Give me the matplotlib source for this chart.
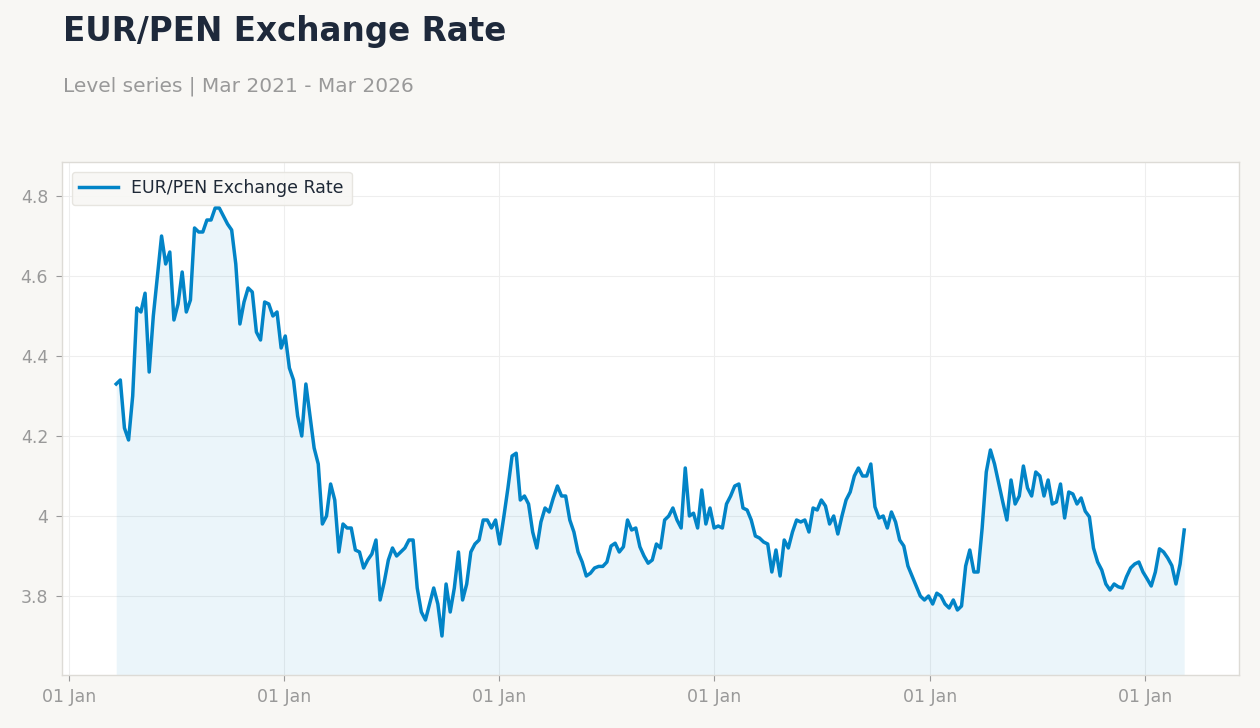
import matplotlib

matplotlib.use("Agg")
import matplotlib.dates as mdates
import matplotlib.pyplot as plt
import pandas as pd
from matplotlib.ticker import FuncFormatter

# weekly EUR/PEN readings, Mar 2021 - Mar 2026
start_date = "2021-03-22"
rate = [
    4.33, 4.34, 4.22, 4.19, 4.30, 4.52, 4.51, 4.557, 4.36, 4.50,
    4.60, 4.70, 4.63, 4.66, 4.49, 4.53, 4.61, 4.51, 4.54, 4.72,
    4.71, 4.71, 4.74, 4.74, 4.77, 4.77, 4.75, 4.73, 4.715, 4.63,
    4.48, 4.535, 4.57, 4.56, 4.46, 4.44, 4.535, 4.53, 4.50, 4.51,
    4.42, 4.45, 4.37, 4.34, 4.25, 4.20, 4.33, 4.25, 4.17, 4.13,
    3.98, 4.00, 4.08, 4.04, 3.91, 3.98, 3.97, 3.97, 3.915, 3.91,
    3.87, 3.89, 3.905, 3.94, 3.79, 3.835, 3.89, 3.92, 3.90, 3.91,
    3.92, 3.94, 3.94, 3.82, 3.76, 3.74, 3.78, 3.82, 3.78, 3.70,
    3.83, 3.76, 3.82, 3.91, 3.79, 3.83, 3.91, 3.93, 3.94, 3.99,
    3.99, 3.97, 3.99, 3.93, 3.998, 4.07, 4.15, 4.157, 4.04, 4.05,
    4.03, 3.96, 3.92, 3.985, 4.02, 4.01, 4.045, 4.075, 4.05, 4.05,
    3.99, 3.96, 3.91, 3.885, 3.85, 3.857, 3.87, 3.874, 3.874, 3.885,
    3.925, 3.932, 3.91, 3.923, 3.99, 3.965, 3.97, 3.923, 3.90, 3.882,
    3.89, 3.93, 3.92, 3.99, 4.00, 4.02, 3.99, 3.97, 4.12, 4.00,
    4.007, 3.97, 4.065, 3.98, 4.02, 3.97, 3.975, 3.97, 4.03, 4.05,
    4.075, 4.08, 4.02, 4.015, 3.99, 3.95, 3.945, 3.935, 3.93, 3.86,
    3.915, 3.85, 3.94, 3.92, 3.96, 3.99, 3.985, 3.99, 3.96, 4.02,
    4.015, 4.04, 4.025, 3.98, 4.00, 3.955, 4.00, 4.04, 4.06, 4.10,
    4.12, 4.10, 4.10, 4.13, 4.023, 3.995, 4.00, 3.97, 4.01, 3.985,
    3.94, 3.925, 3.875, 3.85, 3.825, 3.80, 3.79, 3.80, 3.78, 3.807,
    3.80, 3.78, 3.77, 3.79, 3.765, 3.775, 3.875, 3.915, 3.86, 3.86,
    3.97, 4.11, 4.165, 4.13, 4.082, 4.035, 3.99, 4.09, 4.03, 4.05,
    4.125, 4.07, 4.05, 4.11, 4.10, 4.05, 4.09, 4.03, 4.035, 4.08,
    3.995, 4.06, 4.055, 4.03, 4.045, 4.012, 3.998, 3.92, 3.885, 3.865,
    3.83, 3.815, 3.83, 3.823, 3.82, 3.848, 3.87, 3.88, 3.885, 3.86,
    3.843, 3.825, 3.86, 3.918, 3.91, 3.895, 3.876, 3.83, 3.88, 3.965,
]
dates = pd.date_range(start_date, periods=len(rate), freq="7D")

y_ticks = [3.8, 4.0, 4.2, 4.4, 4.6, 4.8]
y_min, y_max = 3.6025, 4.885
x_min, x_max = pd.Timestamp("2020-12-20"), pd.Timestamp("2026-06-10")

BG = "#f8f7f4"
LINE = "#0284c7"
GRID = "#eeeeee"
TICK = "#999999"

fig = plt.figure(figsize=(12.6, 7.28), dpi=100, facecolor=BG)
ax = fig.add_axes([62 / 1260, 1 - 675 / 728, (1239 - 62) / 1260, (675 - 162) / 728])
ax.set_facecolor("white")

ax.fill_between(dates, rate, y_min, color=LINE, alpha=0.08, linewidth=0)
ax.plot(dates, rate, color=LINE, linewidth=2.5, label="EUR/PEN Exchange Rate",
        solid_joinstyle="round")

ax.set_xlim(x_min, x_max)
ax.set_ylim(y_min, y_max)
ax.set_yticks(y_ticks)
ax.yaxis.set_major_formatter(FuncFormatter(lambda v, _: f"{v:g}"))
ax.xaxis.set_major_locator(mdates.YearLocator())
ax.xaxis.set_major_formatter(mdates.DateFormatter("%d %b"))

ax.grid(True, color=GRID, linewidth=0.8)
ax.set_axisbelow(True)
for side in ax.spines.values():
    side.set_color("#dddbd6")
    side.set_linewidth(1)
ax.tick_params(colors=TICK, labelsize=12.5, length=4, width=0.8, pad=6)
ax.tick_params(axis="x", pad=5)

leg = ax.legend(loc="upper left", fontsize=12.5, frameon=True, borderpad=0.45,
                handlelength=2.2, borderaxespad=0.55)
leg.get_frame().set_facecolor(BG)
leg.get_frame().set_edgecolor("#e5e3de")
leg.get_frame().set_alpha(0.9)
for t in leg.get_texts():
    t.set_color("#1f2937")

fig.text(63 / 1260, 1 - 31 / 728, "EUR/PEN Exchange Rate", fontsize=23.5, fontweight="bold",
         color="#1e293b", va="center", ha="left")
fig.text(63 / 1260, 1 - 86 / 728, "Level series | Mar 2021 - Mar 2026", fontsize=14.5,
         color="#999999", va="center", ha="left")

fig.savefig("out.png", dpi=100, facecolor=BG)
